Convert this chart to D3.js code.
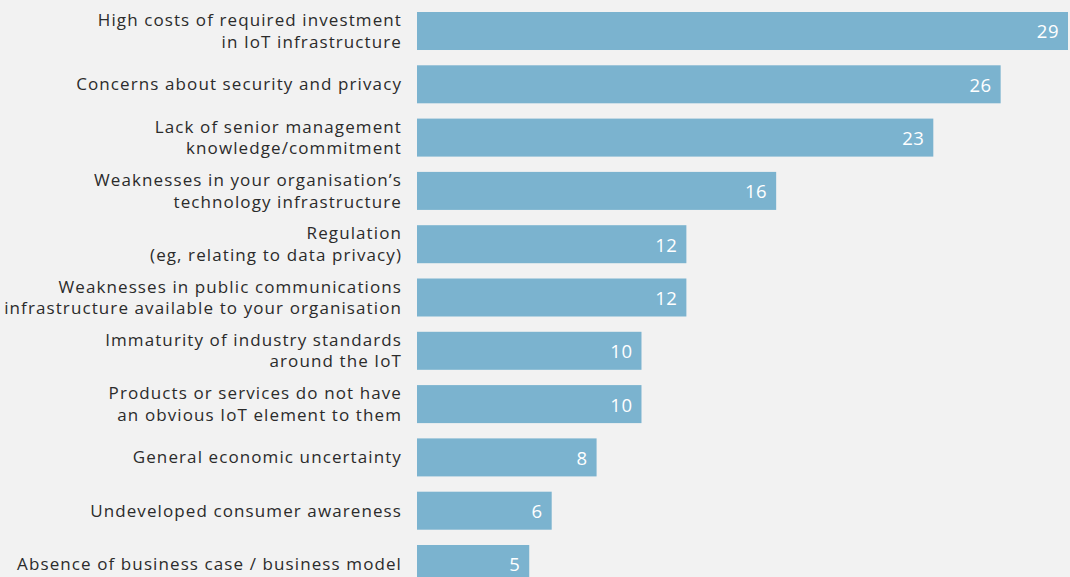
<!DOCTYPE html>
<html>
<head>
<meta charset="utf-8">
<script src="https://cdn.jsdelivr.net/npm/d3@7"></script>
<style>
  html, body { margin: 0; padding: 0; background: #f2f2f2; }
  svg { display: block; }
</style>
</head>
<body>
<svg id="chart" width="1070" height="577"></svg>
<script>
// Barriers to IoT adoption, share of respondents
const categories = [
  ["High costs of required investment", "in IoT infrastructure"],
  ["Concerns about security and privacy"],
  ["Lack of senior management", "knowledge/commitment"],
  ["Weaknesses in your organisation\u2019s", "technology infrastructure"],
  ["Regulation", "(eg, relating to data privacy)"],
  ["Weaknesses in public communications", "infrastructure available to your organisation"],
  ["Immaturity of industry standards", "around the IoT"],
  ["Products or services do not have", "an obvious IoT element to them"],
  ["General economic uncertainty"],
  ["Undeveloped consumer awareness"],
  ["Absence of business case / business model"]
];
const values = [29, 26, 23, 16, 12, 12, 10, 10, 8, 6, 5];

const W = 1070, H = 577;
const svg = d3.select("#chart");
const font = "'Open Sans', 'DejaVu Sans', sans-serif";

const keys = categories.map(c => c.join(" "));
const data = keys.map((k, i) => ({ key: k, lines: categories[i], value: values[i] }));

const x = d3.scaleLinear().domain([0, 29]).range([417, 1068]);
const y = d3.scaleBand().domain(keys).range([12, 583]).paddingInner(0.287).paddingOuter(0);

svg.append("rect").attr("width", W).attr("height", H).attr("fill", "#f2f2f2");

const g = svg.append("g");

g.selectAll("rect.bar").data(data).join("rect")
  .attr("class", "bar")
  .attr("x", x(0))
  .attr("y", d => y(d.key))
  .attr("width", d => x(d.value) - x(0))
  .attr("height", y.bandwidth())
  .attr("fill", "#7bb3cf");

g.selectAll("text.val").data(data).join("text")
  .attr("class", "val")
  .attr("x", d => x(d.value) - 9)
  .attr("y", d => y(d.key) + y.bandwidth() / 2 + 1)
  .attr("dy", "0.35em")
  .attr("text-anchor", "end")
  .attr("fill", "#ffffff")
  .style("font-family", font)
  .style("font-size", "18.5px")
  .style("letter-spacing", "0.5px")
  .text(d => d.value);

const lineH = 21.5;
const labels = g.selectAll("text.cat").data(data).join("text")
  .attr("class", "cat")
  .attr("text-anchor", "end")
  .attr("fill", "#2b2b2b")
  .style("font-family", font)
  .style("font-size", "17px")
  .style("letter-spacing", "1.1px");

labels.each(function(d) {
  const t = d3.select(this);
  const cy = y(d.key) + y.bandwidth() / 2;
  const n = d.lines.length;
  d.lines.forEach((ln, i) => {
    t.append("tspan")
      .attr("x", 402)
      .attr("y", cy + (i - (n - 1) / 2) * lineH)
      .attr("dy", "0.35em")
      .text(ln);
  });
});
</script>
</body>
</html>
